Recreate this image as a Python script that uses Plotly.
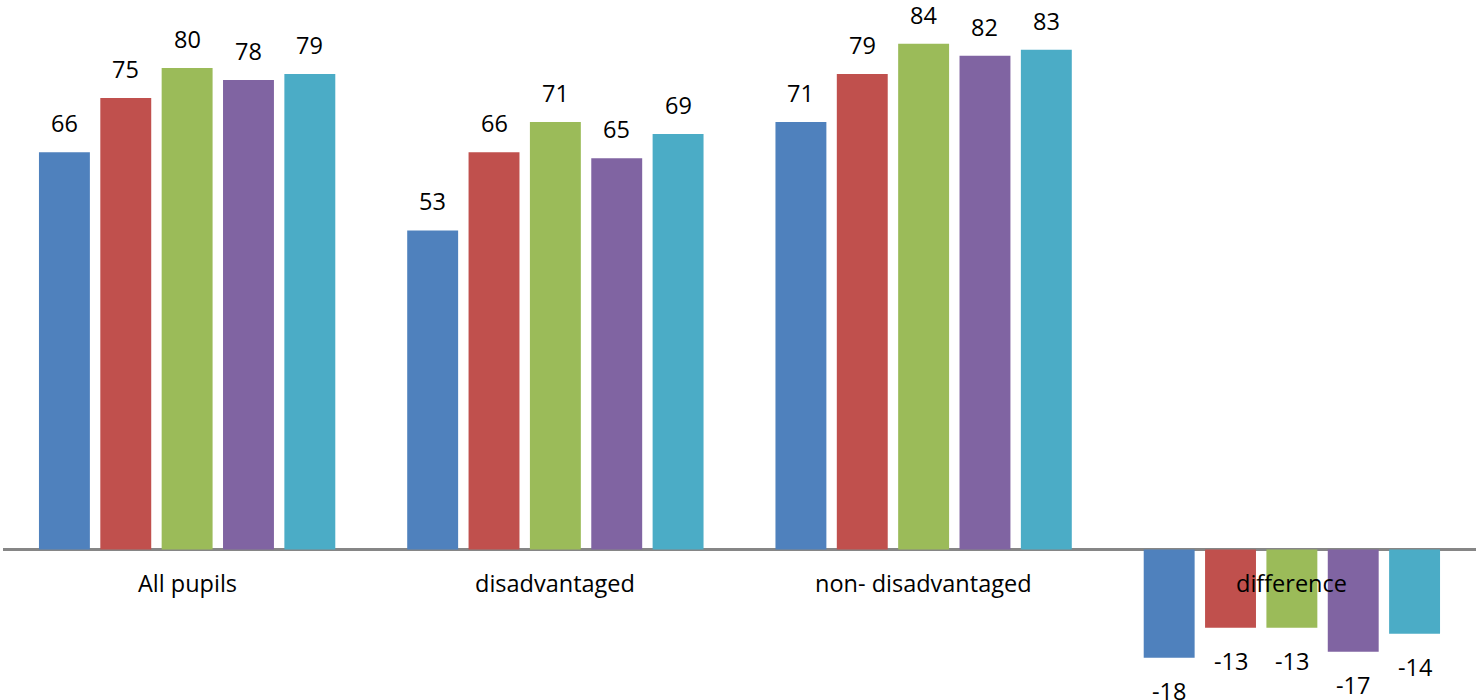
import plotly.graph_objects as go

categories = ["All pupils", "disadvantaged", "non- disadvantaged", "difference"]
series_names = ["Series 1", "Series 2", "Series 3", "Series 4", "Series 5"]
series_values = [
    [66, 53, 71, -18],
    [75, 66, 79, -13],
    [80, 71, 84, -13],
    [78, 65, 82, -17],
    [79, 69, 83, -14],
]
colors = ["#4F81BD", "#C0504D", "#9BBB59", "#8064A2", "#4BACC6"]

BARGAP = 0.167
GROUPGAP = 0.17
FONT = dict(family="Open Sans, Liberation Sans, sans-serif", size=23.5, color="#000000")

fig = go.Figure()
for name, vals, col in zip(series_names, series_values, colors):
    fig.add_trace(go.Bar(x=categories, y=vals, name=name, marker_color=col,
                         marker_line_width=0))

n = len(series_names)
slot = (1 - BARGAP) / n
annotations = []
for i, vals in enumerate(series_values):
    off = (i - (n - 1) / 2) * slot
    for c, v in enumerate(vals):
        annotations.append(dict(
            x=c + off, y=v, xref="x", yref="y", text=str(v), showarrow=False,
            font=FONT, yanchor="bottom" if v >= 0 else "top",
            yshift=11 if v >= 0 else -15))
for c, cat in enumerate(categories):
    annotations.append(dict(x=c, y=0, xref="x", yref="y", text=cat, showarrow=False,
                            font=FONT, yanchor="middle", yshift=-33))

fig.update_layout(
    width=1476, height=700,
    margin=dict(l=3, r=0, t=0, b=0),
    paper_bgcolor="white", plot_bgcolor="white",
    barmode="group", bargap=BARGAP, bargroupgap=GROUPGAP,
    showlegend=False,
    annotations=annotations,
    xaxis=dict(showticklabels=False, showgrid=False, zeroline=False, showline=False,
               ticks=""),
    yaxis=dict(range=[-25.0, 91.28], showticklabels=False, showgrid=False,
               zeroline=True, zerolinecolor="#868686", zerolinewidth=3, showline=False,
               ticks=""),
)
fig.write_html("out.html")
